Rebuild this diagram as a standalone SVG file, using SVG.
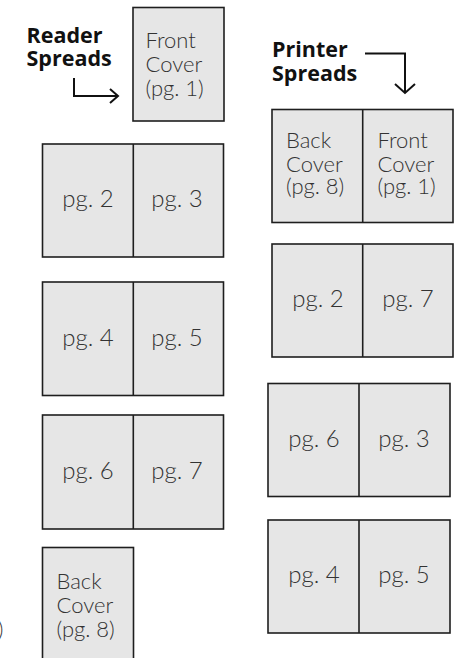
<svg xmlns="http://www.w3.org/2000/svg" width="459" height="658" viewBox="0 0 459 658">
<defs>
<style>
.pg{fill:#e6e6e6;stroke:#1e1e1e;stroke-width:1.6}
.div{stroke:#1e1e1e;stroke-width:1.6}
.t{font-family:Lato,"Open Sans","Liberation Sans",sans-serif;font-weight:300;fill:#333333}
.c{font-size:22px}
.p{font-size:24px;text-anchor:middle}
.b{font-family:"Open Sans",Lato,"Liberation Sans",sans-serif;font-weight:700;font-size:21.5px;fill:#111}
.arr{fill:none;stroke:#111;stroke-width:2}
</style>
</defs>
<rect width="459" height="658" fill="#ffffff"/>
<g id="label-reader">
<text class="b" x="26.5" y="43">Reader<tspan x="26.5" y="66">Spreads</tspan></text>
</g>
<g id="label-printer">
<text class="b" x="272" y="57">Printer<tspan x="272" y="80.5">Spreads</tspan></text>
</g>
<g id="connectors">
<path class="arr" d="M74 78 V96 H118"/>
<path class="arr" d="M110 89 L118 96 L110 103"/>
<path class="arr" d="M365 53.5 H405 V93"/>
<path class="arr" d="M395 84 L405 93 L415 84"/>
</g>
<g id="reader-front-cover">
<rect class="pg" x="133" y="7.5" width="91" height="113.5"/>
<text class="t c" x="145.5" y="48">Front<tspan x="145.5" y="72">Cover</tspan><tspan x="145.5" y="95.5">(pg. 1)</tspan></text>
</g>
<g id="reader-spread-2-3">
<rect class="pg" x="42.5" y="144" width="181" height="113"/>
<line class="div" x1="133.3" y1="144" x2="133.3" y2="257"/>
<text class="t p" x="88" y="207">pg. 2</text>
<text class="t p" x="177" y="207">pg. 3</text>
</g>
<g id="reader-spread-4-5">
<rect class="pg" x="42.5" y="282" width="181" height="113.5"/>
<line class="div" x1="133.3" y1="282" x2="133.3" y2="395.5"/>
<text class="t p" x="88" y="346">pg. 4</text>
<text class="t p" x="177" y="346">pg. 5</text>
</g>
<g id="reader-spread-6-7">
<rect class="pg" x="42.5" y="415" width="181" height="114"/>
<line class="div" x1="133.3" y1="415" x2="133.3" y2="529"/>
<text class="t p" x="88" y="479">pg. 6</text>
<text class="t p" x="177" y="479">pg. 7</text>
</g>
<g id="reader-back-cover">
<rect class="pg" x="42.5" y="547.5" width="91" height="114"/>
<text class="t c" x="56.5" y="589">Back<tspan x="56.5" y="613">Cover</tspan><tspan x="56.5" y="636.5">(pg. 8)</tspan></text>
</g>
<g id="printer-spread-8-1">
<rect class="pg" x="272" y="109.5" width="181" height="113"/>
<line class="div" x1="362.7" y1="109.5" x2="362.7" y2="222.5"/>
<text class="t c" x="286" y="148">Back<tspan x="286" y="171.5">Cover</tspan><tspan x="286" y="194">(pg. 8)</tspan></text>
<text class="t c" x="377.5" y="148">Front<tspan x="377.5" y="171.5">Cover</tspan><tspan x="377.5" y="194">(pg. 1)</tspan></text>
</g>
<g id="printer-spread-2-7">
<rect class="pg" x="272" y="244" width="181" height="113"/>
<line class="div" x1="362.7" y1="244" x2="362.7" y2="357"/>
<text class="t p" x="318" y="307">pg. 2</text>
<text class="t p" x="408" y="307">pg. 7</text>
</g>
<g id="printer-spread-6-3">
<rect class="pg" x="268" y="383.5" width="182" height="113"/>
<line class="div" x1="359" y1="383.5" x2="359" y2="496.5"/>
<text class="t p" x="314" y="447">pg. 6</text>
<text class="t p" x="404" y="447">pg. 3</text>
</g>
<g id="printer-spread-4-5">
<rect class="pg" x="268" y="520" width="182" height="113"/>
<line class="div" x1="359" y1="520" x2="359" y2="633"/>
<text class="t p" x="314" y="583">pg. 4</text>
<text class="t p" x="404" y="583">pg. 5</text>
</g>
<text class="t c" x="3.5" y="637" text-anchor="end">)</text>
</svg>
